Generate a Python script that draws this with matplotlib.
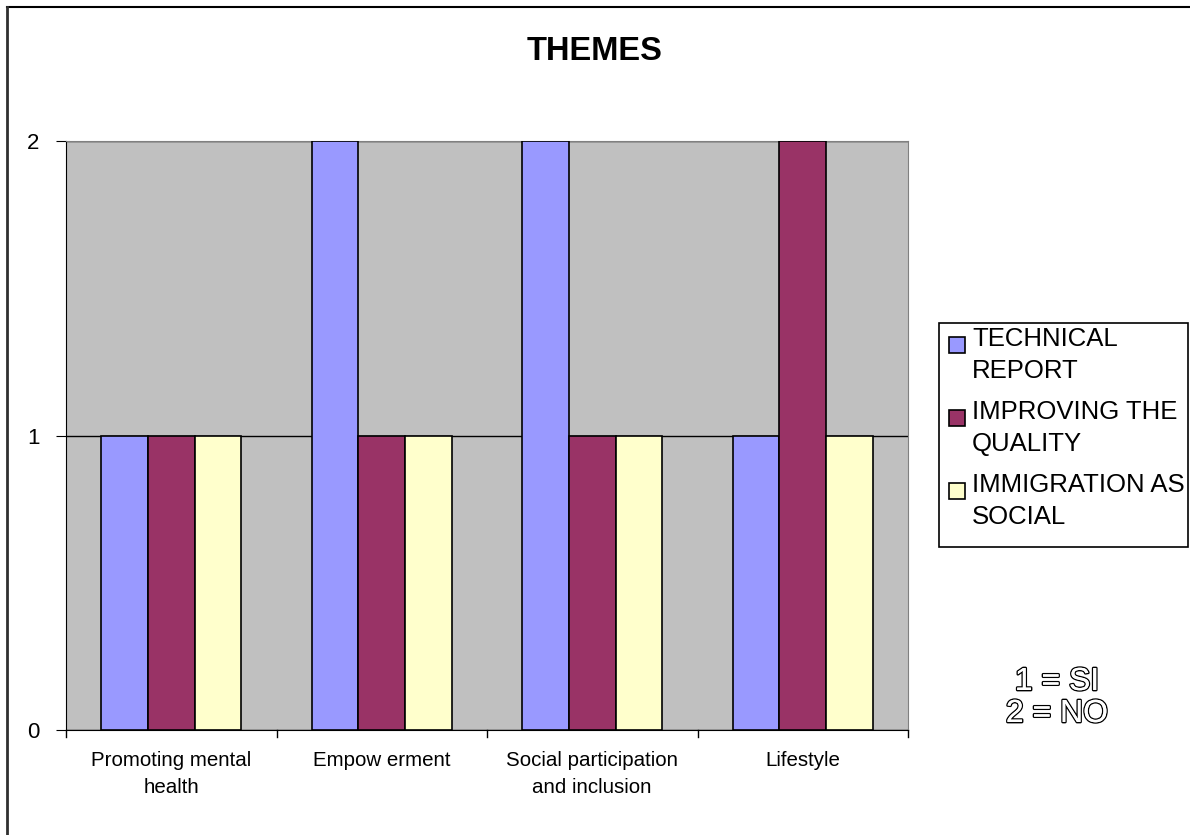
import matplotlib.pyplot as plt
import matplotlib.patheffects as pe
from matplotlib.patches import Rectangle
from matplotlib.lines import Line2D
import numpy as np

plt.rcParams['font.family'] = ['Liberation Sans', 'DejaVu Sans']

categories = ['Promoting mental\nhealth', 'Empow erment',
              'Social participation\nand inclusion', 'Lifestyle']
series_names = ['TECHNICAL\nREPORT', 'IMPROVING THE\nQUALITY', 'IMMIGRATION AS\nSOCIAL']
technical_report = [1, 2, 2, 1]
improving_quality = [1, 1, 1, 2]
immigration_social = [1, 1, 1, 1]
colors = ['#9999FF', '#993366', '#FFFFCC']

W, H = 1190, 835
fig = plt.figure(figsize=(W / 100, H / 100), dpi=100)
ax = fig.add_axes([66 / W, 1 - 730 / H, 842 / W, 589 / H])
ax.set_facecolor('#C0C0C0')


def fx(px):
    return px / W


def fy(py):
    return 1 - py / H


x = np.arange(len(categories))
w = 1 / 4.5
for i, vals in enumerate([technical_report, improving_quality, immigration_social]):
    ax.bar(x + (i - 1) * w, vals, width=w, color=colors[i], edgecolor='black',
           linewidth=1.2, zorder=3)

ax.set_xlim(-0.5, 3.5)
ax.set_ylim(0, 2)
ax.set_yticks([0, 1, 2])
ax.set_xticks(x)
ax.set_xticklabels(categories, fontsize=14.8, linespacing=1.55)
ax.tick_params(axis='y', labelsize=16, length=7, direction='out', pad=12)
ax.tick_params(axis='x', length=0, pad=15)
for b in np.arange(-0.5, 4, 1):
    ax.plot([b, b], [0, -0.024], color='black', lw=1, clip_on=False)
ax.yaxis.grid(True, color='black', lw=1, zorder=1)
for s in ['top', 'right']:
    ax.spines[s].set_color('#808080')
for s in ['left', 'bottom']:
    ax.spines[s].set_color('black')

fig.text(0.5, fy(52), 'THEMES', ha='center', va='center',
         fontsize=23.5, fontweight='bold')

# legend box drawn by hand so the swatch sits on the first text line
fig.patches.append(Rectangle((fx(939), fy(547)), fx(1188) - fx(939), fy(323) - fy(547),
                             transform=fig.transFigure, facecolor='white',
                             edgecolor='black', lw=1.2))
for i, name in enumerate(series_names):
    top = 332 + 73 * i
    fig.patches.append(Rectangle((fx(949), fy(top + 21)), fx(16), 16 / H,
                                 transform=fig.transFigure, facecolor=colors[i],
                                 edgecolor='black', lw=1.2))
    fig.text(fx(972), fy(top - 5), name, ha='left', va='top', fontsize=18.5,
             linespacing=1.4)

for txt, y in [('1 = SI', 682), ('2 = NO', 714)]:
    fig.text(fx(1057), fy(y), txt, ha='center', va='center',
             fontsize=23, color='white',
             path_effects=[pe.withStroke(linewidth=2, foreground='black'),
                           pe.Normal()])

fig.lines.append(Line2D([fx(7), 1], [fy(7), fy(7)], transform=fig.transFigure,
                        color='black', lw=1.5))
fig.lines.append(Line2D([fx(7), fx(7)], [fy(7), 0], transform=fig.transFigure,
                        color='#303030', lw=2))

fig.savefig('out.png', dpi=100)
